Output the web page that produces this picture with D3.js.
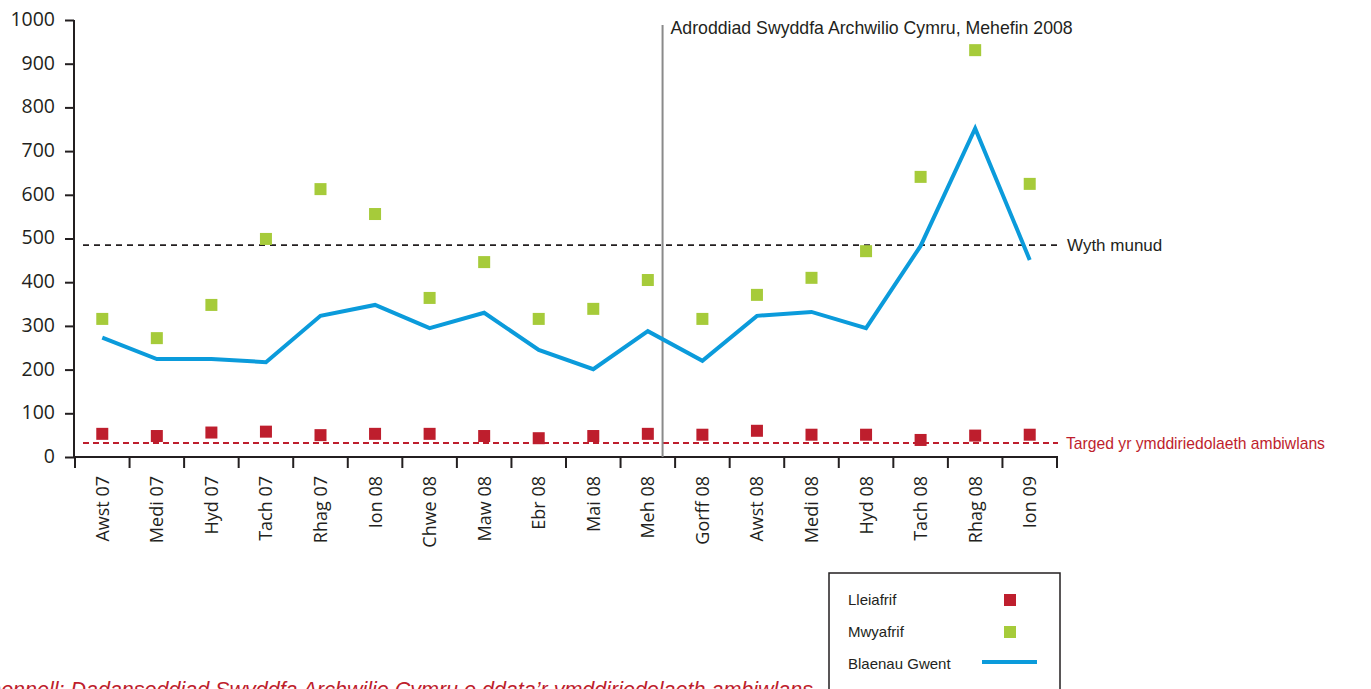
<!DOCTYPE html>
<html>
<head>
<meta charset="utf-8">
<script src="https://cdn.jsdelivr.net/npm/d3@7"></script>
<style>
  html, body { margin: 0; padding: 0; background: #fff; overflow: hidden; }
  svg { display: block; }
</style>
</head>
<body>
<svg id="chart" width="1371" height="689"></svg>
<script>
// Months of the reporting period
const months = ["Awst 07", "Medi 07", "Hyd 07", "Tach 07", "Rhag 07", "Ion 08", "Chwe 08", "Maw 08", "Ebr 08",
                "Mai 08", "Meh 08", "Gorff 08", "Awst 08", "Medi 08", "Hyd 08", "Tach 08", "Rhag 08", "Ion 09"];

// Blaenau Gwent response times (seconds)
const blaenauGwent = [273, 224, 224, 217, 323, 348, 295, 330, 245, 201, 288, 220, 323, 332, 295, 483, 752, 451];
// Lowest (Lleiafrif) and highest (Mwyafrif) values across areas
const lleiafrif = [53, 48, 56, 58, 50, 53, 53, 48, 43, 48, 53, 51, 60, 51, 51, 39, 49, 51];
const mwyafrif  = [316, 272, 348, 499, 613, 556, 364, 446, 316, 339, 405, 316, 371, 410, 471, 641, 931, 625];

const yTicks = [0, 100, 200, 300, 400, 500, 600, 700, 800, 900, 1000];

// Reference levels
const wythMunud = 485;       // eight-minute line
const targed = 32;           // trust target line
const reportMonth = "Meh 08"; // month of the audit report
const reportOffset = 0.77;    // position within the month band

const colors = { blue: "#0b9bdb", green: "#a6cb3a", red: "#be1e2d", axis: "#231f20", grey: "#8a8a8a" };

const svg = d3.select("#chart");

const x = d3.scaleBand().domain(months).range([75, 1057]).paddingInner(0).paddingOuter(0);
const y = d3.scaleLinear().domain([0, 1000]).range([457, 20]);
const cx = d => x(d) + x.bandwidth() / 2;

const numFont = "'Open Sans', 'Noto Sans', sans-serif";
const txtFont = "'Liberation Sans', Arial, sans-serif";

// Y axis
const yAxis = svg.append("g").attr("transform", "translate(74,0)")
  .call(d3.axisLeft(y).tickValues(yTicks).tickSize(9).tickPadding(10).tickFormat(d3.format("d")));
yAxis.select(".domain").attr("stroke", colors.axis).attr("stroke-width", 2).attr("d", `M0,${y(1000)}V${y(0)}`);
yAxis.selectAll(".tick line").attr("stroke", colors.axis).attr("stroke-width", 2);
yAxis.selectAll(".tick text").attr("font-family", numFont).attr("font-size", 19.5).attr("fill", colors.axis).attr("dy", "0.28em");

// X axis: domain line, boundary ticks and rotated month labels
const xg = svg.append("g");
xg.append("line").attr("x1", 73).attr("x2", 1058).attr("y1", y(0)).attr("y2", y(0))
  .attr("stroke", colors.axis).attr("stroke-width", 2);
const bounds = months.map(m => x(m)).concat([x(months[months.length - 1]) + x.bandwidth()]);
xg.selectAll("line.tick").data(bounds).enter().append("line").attr("class", "tick")
  .attr("x1", d => d).attr("x2", d => d).attr("y1", y(0)).attr("y2", y(0) + 11)
  .attr("stroke", colors.axis).attr("stroke-width", 2);
xg.selectAll("text").data(months).enter().append("text")
  .attr("transform", d => `translate(${cx(d)},${y(0) + 19}) rotate(-90)`)
  .attr("text-anchor", "end").attr("dy", "0.36em")
  .attr("font-family", numFont).attr("font-size", 18).attr("fill", colors.axis)
  .text(d => d);

// Reference dashed lines
svg.append("line").attr("x1", 83).attr("x2", 1058).attr("y1", y(wythMunud)).attr("y2", y(wythMunud))
  .attr("stroke", colors.axis).attr("stroke-width", 1.8).attr("stroke-dasharray", "6,5");
svg.append("line").attr("x1", 83).attr("x2", 1058).attr("y1", y(targed)).attr("y2", y(targed))
  .attr("stroke", colors.red).attr("stroke-width", 1.8).attr("stroke-dasharray", "6,4");

svg.append("text").attr("x", 1067).attr("y", y(wythMunud) + 5.5)
  .attr("font-family", txtFont).attr("font-size", 17).attr("fill", colors.axis).text("Wyth munud");
svg.append("text").attr("x", 1066).attr("y", y(targed) + 5.5)
  .attr("font-family", txtFont).attr("font-size", 15.7).attr("fill", colors.red).text("Targed yr ymddiriedolaeth ambiwlans");

// Report marker
const rx = x(reportMonth) + x.bandwidth() * reportOffset;
svg.append("line").attr("x1", rx).attr("x2", rx).attr("y1", 25).attr("y2", y(0))
  .attr("stroke", colors.grey).attr("stroke-width", 2);
svg.append("text").attr("x", rx + 8).attr("y", 34)
  .attr("font-family", txtFont).attr("font-size", 17.7).attr("fill", colors.axis)
  .text("Adroddiad Swyddfa Archwilio Cymru, Mehefin 2008");

// Blaenau Gwent line
const line = d3.line().x((d, i) => cx(months[i])).y(d => y(d));
svg.append("path").datum(blaenauGwent).attr("d", line)
  .attr("fill", "none").attr("stroke", colors.blue).attr("stroke-width", 4).attr("stroke-linejoin", "miter");

// Square markers
const sq = 12;
svg.append("g").selectAll("rect").data(mwyafrif).enter().append("rect")
  .attr("x", (d, i) => cx(months[i]) - sq / 2).attr("y", d => y(d) - sq / 2)
  .attr("width", sq).attr("height", sq).attr("fill", colors.green);
svg.append("g").selectAll("rect").data(lleiafrif).enter().append("rect")
  .attr("x", (d, i) => cx(months[i]) - sq / 2).attr("y", d => y(d) - sq / 2)
  .attr("width", sq).attr("height", sq).attr("fill", colors.red);

// Legend
const lg = svg.append("g");
lg.append("rect").attr("x", 829).attr("y", 573).attr("width", 231).attr("height", 130)
  .attr("fill", "#fff").attr("stroke", colors.axis).attr("stroke-width", 1.5);
const legendItems = [
  { label: "Lleiafrif", type: "sq", color: colors.red },
  { label: "Mwyafrif", type: "sq", color: colors.green },
  { label: "Blaenau Gwent", type: "line", color: colors.blue }
];
legendItems.forEach((it, i) => {
  const base = 605 + i * 32;
  lg.append("text").attr("x", 848).attr("y", base)
    .attr("font-family", txtFont).attr("font-size", 15).attr("fill", colors.axis).text(it.label);
  if (it.type === "sq") {
    lg.append("rect").attr("x", 1004).attr("y", base - 11).attr("width", sq).attr("height", sq).attr("fill", it.color);
  } else {
    lg.append("line").attr("x1", 982).attr("x2", 1037).attr("y1", base - 7).attr("y2", base - 7)
      .attr("stroke", it.color).attr("stroke-width", 4);
  }
});

// Source note (runs off the lower-left edge of the page)
svg.append("text").attr("x", 813).attr("y", 697).attr("text-anchor", "end")
  .attr("font-family", txtFont).attr("font-style", "italic").attr("font-size", 21.5).attr("fill", colors.red)
  .text("Ffynhonnell: Dadansoddiad Swyddfa Archwilio Cymru o ddata\u2019r ymddiriedolaeth ambiwlans");
</script>
</body>
</html>
